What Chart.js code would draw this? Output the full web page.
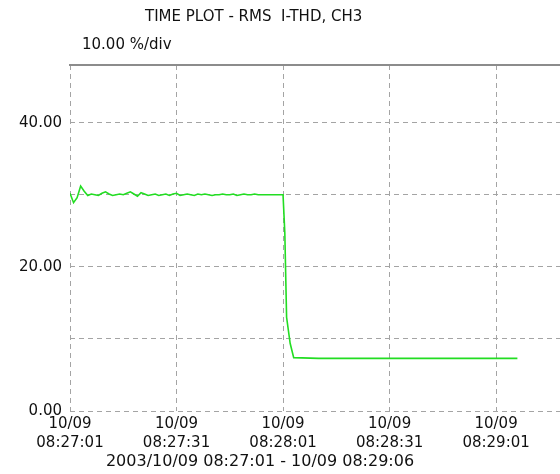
<!DOCTYPE html>
<html>
<head>
<meta charset="utf-8">
<script src="https://cdn.jsdelivr.net/npm/chart.js@4/dist/chart.umd.min.js"></script>
<style>
  body { margin: 0; background: #fff; }
</style>
</head>
<body>
<canvas id="thdChart" width="560" height="474"></canvas>
<script>
// seconds after 10/09 08:27:01
const times = [
    0, 1, 2, 3, 4, 5, 6, 7, 8, 9,
    10, 11, 12, 13, 14, 15, 16, 17, 18, 19,
    20, 21, 22, 23, 24, 25, 26, 27, 28, 29,
    30, 31, 32, 33, 34, 35, 36, 37, 38, 39,
    40, 41, 42, 43, 44, 45, 46, 47, 48, 49,
    50, 51, 52, 53, 54, 55, 56, 57, 58, 59,
    60, 60.5, 61, 62, 63, 70, 80, 90, 100, 110, 120, 126
];
// RMS I-THD, CH3 (%)
const thdValues = [
    30.2, 28.9, 29.6, 31.2, 30.5, 29.9, 30.1, 30.0, 29.9, 30.2,
    30.4, 30.1, 29.9, 30.0, 30.1, 30.0, 30.2, 30.4, 30.1, 29.8,
    30.3, 30.1, 29.9, 30.0, 30.1, 29.9, 30.0, 30.1, 29.9, 30.1,
    30.2, 29.9, 30.0, 30.1, 30.0, 29.9, 30.1, 30.0, 30.1, 30.0,
    29.9, 30.0, 30.0, 30.1, 30.0, 30.0, 30.1, 29.9, 30.0, 30.1,
    30.0, 30.0, 30.1, 30.0, 30.0, 30.0, 30.0, 30.0, 30.0, 30.0,
    30.0, 24.7, 13.0, 9.4, 7.4, 7.3, 7.3, 7.3, 7.3, 7.3, 7.3, 7.3
];

const xTicks = [0, 30, 60, 90, 120];
const xTickDates = ['10/09', '10/09', '10/09', '10/09', '10/09'];
const xTickTimes = ['08:27:01', '08:27:31', '08:28:01', '08:28:31', '08:29:01'];
const yGrid = [0, 10, 20, 30, 40];
const yLabels = ['0.00', '', '20.00', '', '40.00'];

const titleText = 'TIME PLOT - RMS  I-THD, CH3';
const scaleText = '10.00 %/div';
const rangeText = '2003/10/09 08:27:01 - 10/09 08:29:06';

const gridGray = '#a4a4a4';
const textColor = '#111';
const fontFamily = '"DejaVu Sans", sans-serif';

// plain text above and below the plot
const textPlugin = {
    id: 'plotText',
    afterDraw(chart) {
        const c = chart.ctx;
        c.save();
        c.fillStyle = textColor;
        c.textBaseline = 'alphabetic';
        c.textAlign = 'left';
        c.font = '15px ' + fontFamily;
        c.fillText(titleText, 145, 21);
        c.fillText(scaleText, 82, 49);
        c.textAlign = 'center';
        c.font = '16px ' + fontFamily;
        c.fillText(rangeText, 260, 466);
        c.restore();
    }
};

const ctx = document.getElementById('thdChart').getContext('2d');
const chart = new Chart(ctx, {
    type: 'line',
    data: {
        datasets: [{
            data: times.map((t, i) => ({ x: t, y: thdValues[i] })),
            borderColor: '#22dd22',
            borderWidth: 1.6,
            pointRadius: 0,
            tension: 0,
            fill: false
        }]
    },
    options: {
        responsive: false,
        animation: false,
        layout: { padding: { top: 65, left: 0, right: 0, bottom: 0 } },
        plugins: {
            legend: { display: false },
            title: { display: false },
            tooltip: { enabled: false }
        },
        scales: {
            x: {
                type: 'linear',
                min: 0,
                max: 138,
                afterBuildTicks: scale => { scale.ticks = xTicks.map(v => ({ value: v })); },
                afterFit: scale => { scale.height = 63; },
                grid: { color: gridGray, lineWidth: 1, drawTicks: false },
                border: { display: false, dash: [5, 4] },
                ticks: {
                    padding: 3,
                    maxRotation: 0,
                    color: textColor,
                    font: { family: fontFamily, size: 15, lineHeight: 1.3 },
                    callback: function (value) {
                        const i = xTicks.indexOf(value);
                        return i < 0 ? '' : [xTickDates[i], xTickTimes[i]];
                    }
                }
            },
            xTop: {
                type: 'linear',
                position: 'top',
                min: 0,
                max: 138,
                afterFit: scale => { scale.height = 0; },
                grid: { display: false, drawTicks: false },
                border: { color: '#8c8c8c', width: 2 },
                ticks: { display: false }
            },
            y: {
                min: 0,
                max: 48,
                afterBuildTicks: scale => { scale.ticks = yGrid.map(v => ({ value: v })); },
                afterFit: scale => { scale.width = 70; },
                grid: { color: gridGray, lineWidth: 1, drawTicks: false },
                border: { display: false, dash: [5, 4] },
                ticks: {
                    padding: 8,
                    color: textColor,
                    font: { family: fontFamily, size: 15 },
                    callback: function (value) {
                        const i = yGrid.indexOf(value);
                        return i < 0 ? '' : yLabels[i];
                    }
                }
            }
        }
    },
    plugins: [textPlugin]
});
</script>
</body>
</html>
